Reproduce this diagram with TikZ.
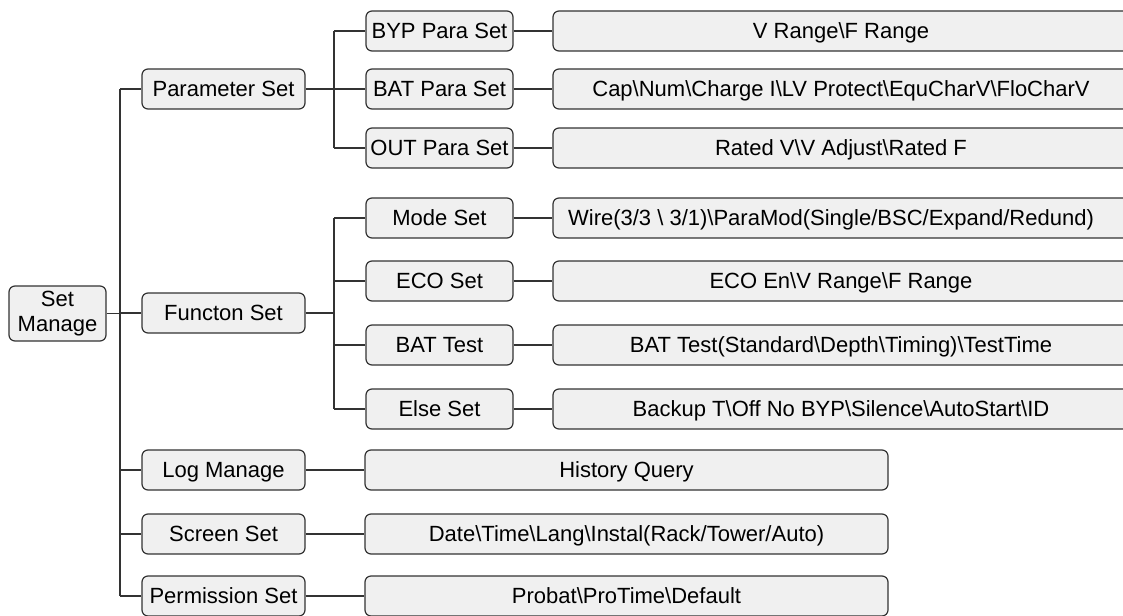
\documentclass[tikz,border=0pt]{standalone}
\usepackage{fontspec}
\setmainfont{Liberation Sans}
\definecolor{boxfill}{HTML}{F0F0F0}
\definecolor{edge}{HTML}{333333}
\begin{document}
\begin{tikzpicture}[x=1pt,y=-1pt,
  basebox/.style={draw=edge, fill=boxfill, rounded corners=6pt, line width=1.2pt,
    minimum height=40pt, inner sep=0pt, font=\fontsize{22}{25}\selectfont},
  box/.style={basebox, text height=15.5pt, text depth=0pt},
  lvone/.style={box, minimum width=163pt},
  lvtwo/.style={box, minimum width=147pt},
  leaf/.style={box, minimum width=576pt},
  leafb/.style={box, minimum width=523pt},
  conn/.style={draw=edge, line width=1.2pt}]
\useasboundingbox (0,0) rectangle (1123,615);
\clip (0,0) rectangle (1123,615);
\fill[white] (0,0) rectangle (1123,615);

\node[basebox, align=center, minimum width=97pt, minimum height=55pt] (root) at (57.5,313.5) {Set\\Manage};

\node[lvone] (p1) at (223.5,89) {Parameter Set};
\node[lvone] (p2) at (223.5,313) {Functon Set};
\node[lvone] (p3) at (223.5,470) {Log Manage};
\node[lvone] (p4) at (223.5,534) {Screen Set};
\node[lvone] (p5) at (223.5,596) {Permission Set};

\node[lvtwo] (a1) at (439.5,31) {BYP Para Set};
\node[lvtwo] (a2) at (439.5,89) {BAT Para Set};
\node[lvtwo] (a3) at (439.5,148) {OUT Para Set};
\node[lvtwo] (b1) at (439.5,218) {Mode Set};
\node[lvtwo] (b2) at (439.5,281) {ECO Set};
\node[lvtwo] (b3) at (439.5,345) {BAT Test};
\node[lvtwo] (b4) at (439.5,409) {Else Set};

\node[leaf] (la1) at (841,31) {V Range\textbackslash F Range};
\node[leaf] (la2) at (841,89) {Cap\textbackslash Num\textbackslash Charge I\textbackslash LV Protect\textbackslash EquCharV\textbackslash FloCharV};
\node[leaf] (la3) at (841,148) {Rated V\textbackslash V Adjust\textbackslash Rated F};
\node[leaf] (lb1) at (841,218) {Wire(3/3 \textbackslash{} 3/1)\textbackslash ParaMod(Single/BSC/Expand/Redund)\kern20pt};
\node[leaf] (lb2) at (841,281) {ECO En\textbackslash V Range\textbackslash F Range};
\node[leaf] (lb3) at (841,345) {BAT Test(Standard\textbackslash Depth\textbackslash Timing)\textbackslash TestTime};
\node[leaf] (lb4) at (841,409) {Backup T\textbackslash Off No BYP\textbackslash Silence\textbackslash AutoStart\textbackslash ID};

\node[leafb] (lc3) at (626.5,470) {History Query};
\node[leafb] (lc4) at (626.5,534) {Date\textbackslash Time\textbackslash Lang\textbackslash Instal(Rack/Tower/Auto)};
\node[leafb] (lc5) at (626.5,596) {Probat\textbackslash ProTime\textbackslash Default};

\coordinate (t) at (120,0);
\coordinate (u) at (334,0);

% trunk
\draw[conn] (root.east) -- (root.east -| t);
\draw[conn] (p1.west -| t) -- (p5.west -| t);
\foreach \n in {p1,p2,p3,p4,p5} \draw[conn] (\n.west -| t) -- (\n.west);

% parameter branch
\draw[conn] (p1.east) -- (p1.east -| u);
\draw[conn] (a1.west -| u) -- (a3.west -| u);
\foreach \n in {a1,a2,a3} \draw[conn] (\n.west -| u) -- (\n.west);

% function branch
\draw[conn] (p2.east) -- (p2.east -| u);
\draw[conn] (b1.west -| u) -- (b4.west -| u);
\foreach \n in {b1,b2,b3,b4} \draw[conn] (\n.west -| u) -- (\n.west);

% leaves
\draw[conn] (a1) -- (la1);
\draw[conn] (a2) -- (la2);
\draw[conn] (a3) -- (la3);
\draw[conn] (b1) -- (lb1);
\draw[conn] (b2) -- (lb2);
\draw[conn] (b3) -- (lb3);
\draw[conn] (b4) -- (lb4);
\draw[conn] (p3) -- (lc3);
\draw[conn] (p4) -- (lc4);
\draw[conn] (p5) -- (lc5);
\end{tikzpicture}
\end{document}
